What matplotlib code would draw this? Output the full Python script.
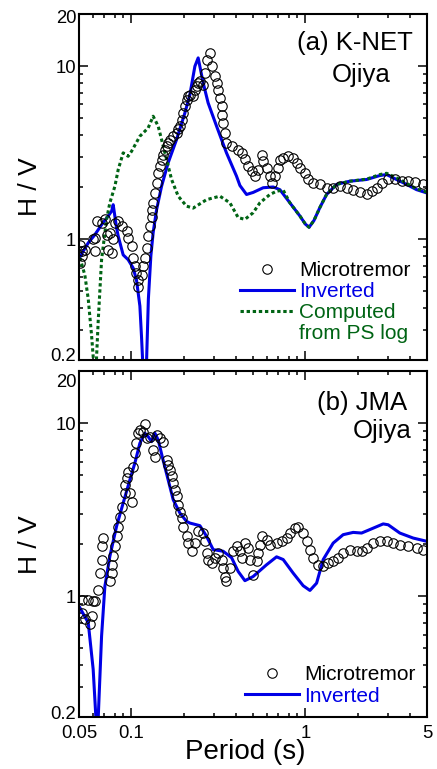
import matplotlib
matplotlib.use("Agg")
import matplotlib.pyplot as plt
import matplotlib.transforms as mtransforms
from matplotlib.lines import Line2D
from matplotlib.ticker import NullFormatter

plt.rcParams['font.family'] = ['Liberation Sans', 'DejaVu Sans']

BLUE = '#0000e6'
GREEN = '#006414'

# ---- (a) K-NET Ojiya ----
a_inv_T = [0.0506, 0.0565, 0.0617, 0.0674, 0.0736, 0.0770, 0.0786, 0.0822, 0.0840, 0.0897,
           0.0958, 0.1024, 0.1070, 0.1119, 0.1144, 0.1160, 0.1180, 0.1223, 0.1252, 0.1294,
           0.1334, 0.1396, 0.1491, 0.1627, 0.1818, 0.2030, 0.2169, 0.2317, 0.2420, 0.2586,
           0.2760, 0.3088, 0.3520, 0.4020, 0.4205, 0.4590, 0.5010, 0.5722, 0.6530, 0.7137,
           0.8146, 0.9299, 1.000, 1.050, 1.120, 1.211, 1.324, 1.511, 1.80, 2.25,
           2.68, 2.929, 3.34, 3.815, 4.356, 4.97]
a_inv_HV = [0.79, 0.95, 1.06, 1.21, 1.36, 1.45, 1.58, 1.16, 1.04, 0.81,
            0.76, 0.68, 0.58, 0.41, 0.27, 0.20, 0.08, 0.20, 0.45, 0.80,
            1.09, 1.48, 2.02, 2.76, 3.76, 5.36, 6.84, 9.97, 11.15, 8.00,
            6.13, 4.49, 3.15, 2.31, 2.04, 1.81, 1.86, 1.98, 2.00, 1.93,
            1.62, 1.36, 1.22, 1.17, 1.28, 1.52, 1.81, 2.07, 2.16, 2.21,
            2.33, 2.36, 2.21, 2.07, 1.93, 1.85]

a_ps_T = [0.0506, 0.0540, 0.0565, 0.0590, 0.0603, 0.0615, 0.0631, 0.0645, 0.0674, 0.0720,
          0.0752, 0.0804, 0.0840, 0.0897, 0.0958, 0.1003, 0.1119, 0.1249, 0.1334, 0.1426,
          0.1491, 0.1594, 0.1702, 0.1858, 0.2075, 0.2265, 0.2705, 0.3226, 0.3683, 0.4111,
          0.4492, 0.5010, 0.5477, 0.6252, 0.6830, 0.7455, 0.8146, 0.9299, 1.000, 1.050,
          1.120, 1.211, 1.324, 1.511, 1.80, 2.25, 2.68, 2.929, 3.34, 3.815,
          4.356, 4.97]
a_ps_HV = [0.78, 0.62, 0.45, 0.28, 0.21, 0.10, 0.21, 0.34, 0.76, 1.30,
           1.62, 2.02, 2.52, 3.15, 3.01, 3.22, 3.93, 4.39, 5.13, 4.49,
           3.76, 2.88, 2.21, 1.77, 1.55, 1.51, 1.69, 1.77, 1.62, 1.33,
           1.30, 1.42, 1.62, 1.81, 1.89, 1.92, 1.62, 1.36, 1.22, 1.17,
           1.28, 1.52, 1.81, 2.07, 2.16, 2.22, 2.36, 2.40, 2.26, 2.10,
           1.95, 1.87]

a_mic_T = [0.0506, 0.0506, 0.0517, 0.0517, 0.0541, 0.0603, 0.0617, 0.0617, 0.0631, 0.0674,
           0.0704, 0.0720, 0.0736, 0.0752, 0.0770, 0.0786, 0.0804, 0.0836, 0.0879, 0.0938,
           0.0958, 0.1003, 0.1024, 0.1047, 0.1070, 0.1094, 0.1094, 0.1144, 0.1169, 0.1196,
           0.1223, 0.1249, 0.1277, 0.1306, 0.1320, 0.1334, 0.1365, 0.1396, 0.1426, 0.1458,
           0.1491, 0.1520, 0.1558, 0.1594, 0.1627, 0.1664, 0.1740, 0.1818, 0.1858, 0.1900,
           0.1943, 0.1985, 0.2030, 0.2075, 0.2121, 0.2169, 0.2265, 0.2317, 0.2370, 0.2420,
           0.2476, 0.2586, 0.2645, 0.2705, 0.2826, 0.2890, 0.3019, 0.3088, 0.3154, 0.3226,
           0.3299, 0.3299, 0.3370, 0.3446, 0.3520, 0.3766, 0.4111, 0.4300, 0.4492, 0.4693,
           0.4907, 0.5127, 0.5356, 0.5602, 0.5722, 0.5980, 0.6252, 0.6394, 0.6679, 0.6979,
           0.7137, 0.7455, 0.7964, 0.8510, 0.8901, 0.9299, 0.9934, 1.038, 1.109, 1.211,
           1.324, 1.445, 1.579, 1.725, 1.883, 2.057, 2.25, 2.402, 2.566, 2.741,
           2.992, 3.269, 3.572, 3.898, 4.259, 4.753]
a_mic_HV = [0.73, 0.93, 0.80, 0.85, 0.87, 1.00, 0.85, 1.02, 1.27, 1.24,
            1.30, 1.06, 0.87, 1.09, 0.83, 1.00, 1.24, 1.27, 1.19, 1.11,
            1.02, 0.91, 0.78, 0.70, 0.64, 0.58, 0.53, 0.62, 0.70, 0.78,
            0.89, 1.04, 1.19, 1.35, 1.48, 1.62, 1.85, 2.11, 2.41, 2.64,
            2.88, 3.08, 3.29, 3.44, 3.60, 3.76, 3.93, 4.11, 4.30, 4.49,
            4.91, 5.36, 5.86, 6.40, 6.69, 6.84, 6.69, 7.31, 7.64, 8.00,
            8.17, 7.82, 9.13, 10.90, 11.92, 9.97, 8.73, 8.00, 7.31, 6.55,
            5.86, 5.24, 4.70, 4.11, 3.60, 3.44, 3.29, 3.15, 2.92, 2.64,
            2.47, 2.31, 2.52, 3.08, 2.82, 2.58, 2.31, 2.11, 2.31, 2.58,
            2.88, 2.95, 3.01, 2.95, 2.76, 2.58, 2.41, 2.21, 2.11, 2.07,
            1.98, 1.98, 2.02, 1.98, 1.93, 1.865, 1.825, 1.89, 1.98, 2.11,
            2.21, 2.21, 2.16, 2.16, 2.13, 2.09]

# ---- (b) JMA Ojiya ----
b_inv_T = [0.0506, 0.0565, 0.0603, 0.0625, 0.0635, 0.0645, 0.0674, 0.0704, 0.0752, 0.0822,
           0.0897, 0.0980, 0.1047, 0.1119, 0.1196, 0.1249, 0.1306, 0.1365, 0.1426, 0.1520,
           0.1627, 0.1740, 0.1900, 0.2075, 0.2169, 0.2476, 0.2705, 0.2952, 0.3370, 0.3766,
           0.4111, 0.4492, 0.5010, 0.5980, 0.6830, 0.7455, 0.8510, 0.9714, 1.062, 1.160,
           1.266, 1.445, 1.649, 1.883, 2.104, 2.348, 2.80, 2.992, 3.49, 4.164,
           4.97]
b_inv_HV = [0.857, 0.702, 0.378, 0.20, 0.06, 0.20, 0.588, 1.14, 1.70, 2.54,
            3.46, 4.71, 5.89, 7.68, 8.77, 8.38, 7.84, 8.77, 8.02, 6.15,
            4.71, 3.61, 3.03, 2.71, 2.65, 2.56, 2.22, 1.86, 1.82, 1.67,
            1.39, 1.23, 1.30, 1.52, 1.69, 1.63, 1.36, 1.15, 1.08, 1.19,
            1.63, 2.03, 2.27, 2.34, 2.32, 2.43, 2.62, 2.59, 2.32, 2.17,
            2.08]

b_mic_T = [0.0517, 0.0517, 0.0541, 0.0565, 0.0577, 0.0590, 0.0603, 0.0617, 0.0645, 0.0659,
           0.0674, 0.0674, 0.0689, 0.0752, 0.0770, 0.0770, 0.0786, 0.0804, 0.0822, 0.0840,
           0.0859, 0.0879, 0.0918, 0.0918, 0.0938, 0.0958, 0.0980, 0.1003, 0.1024, 0.1047,
           0.1070, 0.1094, 0.1119, 0.1169, 0.1196, 0.1223, 0.1277, 0.1334, 0.1365, 0.1396,
           0.1458, 0.1520, 0.1594, 0.1627, 0.1664, 0.1702, 0.1740, 0.1778, 0.1818, 0.1858,
           0.1900, 0.1943, 0.1985, 0.2075, 0.2121, 0.2218, 0.2317, 0.2420, 0.2586, 0.2645,
           0.2705, 0.2760, 0.2890, 0.3019, 0.3154, 0.3299, 0.3370, 0.3446, 0.3520, 0.3683,
           0.3850, 0.4020, 0.4205, 0.4300, 0.4492, 0.4693, 0.4797, 0.5010, 0.5243, 0.5356,
           0.5477, 0.5602, 0.5980, 0.6252, 0.6830, 0.7298, 0.7800, 0.8146, 0.8704, 0.9088,
           0.9714, 1.016, 1.062, 1.109, 1.185, 1.266, 1.352, 1.445, 1.544, 1.649,
           1.80, 1.968, 2.104, 2.25, 2.453, 2.68, 2.929, 3.196, 3.49, 3.898,
           4.356, 4.753]
b_mic_HV = [0.957, 0.80, 0.734, 0.957, 0.687, 0.767, 0.936, 0.94, 1.09, 1.36,
            1.63, 1.94, 2.17, 1.22, 1.36, 1.52, 1.70, 1.94, 2.22, 2.53,
            2.89, 3.30, 3.95, 4.41, 4.82, 5.26, 3.95, 3.53, 5.62, 6.71,
            7.67, 8.78, 9.15, 8.96, 9.92, 8.20, 8.38, 7.00, 6.42, 8.56,
            8.19, 7.84, 6.15, 5.76, 5.38, 4.93, 4.51, 4.13, 3.78, 3.38,
            3.09, 2.83, 2.53, 2.22, 2.03, 1.82, 2.03, 2.37, 2.32, 2.08,
            1.78, 1.63, 1.56, 1.67, 1.78, 1.63, 1.46, 1.30, 1.22, 1.46,
            1.82, 1.94, 1.82, 1.67, 2.03, 1.90, 1.63, 1.33, 1.59, 1.78,
            1.99, 2.22, 2.12, 1.99, 2.03, 2.08, 2.17, 2.32, 2.48, 2.53,
            2.32, 2.08, 1.86, 1.67, 1.52, 1.49, 1.56, 1.59, 1.67, 1.78,
            1.84, 1.82, 1.82, 1.90, 2.03, 2.10, 2.08, 2.03, 1.99, 1.94,
            1.90, 1.86]

x_major = [0.05, 0.1, 1, 5]
x_major_labels = ['0.05', '0.1', '1', '5']
x_minor = [0.06, 0.07, 0.08, 0.09, 0.2, 0.3, 0.4, 0.5, 0.6, 0.7, 0.8, 0.9, 2, 3, 4]
y_major = [0.2, 1, 10, 20]
y_major_labels = ['0.2', '1', '10', '20']
y_minor = [0.3, 0.4, 0.5, 0.6, 0.7, 0.8, 0.9, 2, 3, 4, 5, 6, 7, 8, 9]


def style(ax, show_x, shift_top, shift_bottom):
    ax.set_xscale('log')
    ax.set_yscale('log')
    ax.set_xlim(0.05, 5)
    ax.set_ylim(0.2, 20)
    ax.set_xticks(x_major)
    ax.set_xticklabels(x_major_labels if show_x else [])
    ax.set_xticks(x_minor, minor=True)
    ax.set_yticks(y_major)
    ax.set_yticklabels(y_major_labels)
    ax.set_yticks(y_minor, minor=True)
    ax.xaxis.set_minor_formatter(NullFormatter())
    ax.yaxis.set_minor_formatter(NullFormatter())
    ax.tick_params(which='both', direction='in', top=True, right=True,
                   width=1.1, labelsize=13.3, colors='black')
    ax.tick_params(which='major', length=6.5)
    ax.tick_params(which='minor', length=3)
    ax.tick_params(axis='y', pad=2)
    ax.tick_params(axis='x', pad=6)
    for s in ax.spines.values():
        s.set_linewidth(1.5)
    ax.set_ylabel('H / V', fontsize=19)
    ax.yaxis.set_label_coords(-0.106, 0.5)
    # nudge the end labels inward like the original
    labels = ax.get_yticklabels()
    fig = ax.figure
    labels[0].set_transform(labels[0].get_transform() +
                            mtransforms.ScaledTranslation(0, shift_bottom / 100, fig.dpi_scale_trans))
    labels[-1].set_transform(labels[-1].get_transform() +
                             mtransforms.ScaledTranslation(0, -shift_top / 100, fig.dpi_scale_trans))


fig = plt.figure(figsize=(4.37, 7.69), dpi=100)
ax_a = fig.add_axes([0.1808, 0.5319, 0.7963, 0.4499])
ax_b = fig.add_axes([0.1808, 0.0676, 0.7963, 0.4495])

mic_style = dict(linestyle='none', marker='o', markersize=6.8, markerfacecolor='none',
                 markeredgecolor='black', markeredgewidth=0.8)

# panel (a)
ax_a.plot(a_inv_T, a_inv_HV, color=BLUE, lw=2.2)
ax_a.plot(a_ps_T, a_ps_HV, color=GREEN, lw=2.2, dashes=(1.1, 0.9))
ax_a.plot(a_mic_T, a_mic_HV, **mic_style)
style(ax_a, False, 3, 5)
ax_a.text(0.960, 0.896, '(a) K-NET', transform=ax_a.transAxes, ha='right',
          va='baseline', fontsize=18.5)
ax_a.text(0.894, 0.804, 'Ojiya', transform=ax_a.transAxes, ha='right',
          va='baseline', fontsize=18.5)
handles = [Line2D([], [], **mic_style),
           Line2D([], [], color=BLUE, lw=2.2),
           Line2D([], [], color=GREEN, lw=2.2, dashes=(1.1, 0.9)),
           Line2D([], [], linestyle='none')]
ax_a.legend(handles, ['Microtremor', 'Inverted', 'Computed', 'from PS log'],
            loc='lower right', frameon=False, fontsize=15, handlelength=2.6,
            handletextpad=0.25, labelspacing=0.1, borderaxespad=0.4,
            labelcolor=['black', BLUE, GREEN, GREEN])

# panel (b)
ax_b.plot(b_inv_T, b_inv_HV, color=BLUE, lw=2.2)
ax_b.plot(b_mic_T, b_mic_HV, **mic_style)
style(ax_b, True, 9, 5)
ax_b.text(0.943, 0.888, '(b) JMA', transform=ax_b.transAxes, ha='right',
          va='baseline', fontsize=18.5)
ax_b.text(0.956, 0.806, 'Ojiya', transform=ax_b.transAxes, ha='right',
          va='baseline', fontsize=18.5)
ax_b.legend(handles[:2], ['Microtremor', 'Inverted'],
            loc='lower right', frameon=False, fontsize=15, handlelength=2.6,
            handletextpad=0.25, labelspacing=0.1, borderaxespad=0.15,
            labelcolor=['black', BLUE])
ax_b.set_xlabel('Period (s)', fontsize=20)
ax_b.xaxis.set_label_coords(0.477, -0.064)

fig.savefig('out.png', dpi=100)
